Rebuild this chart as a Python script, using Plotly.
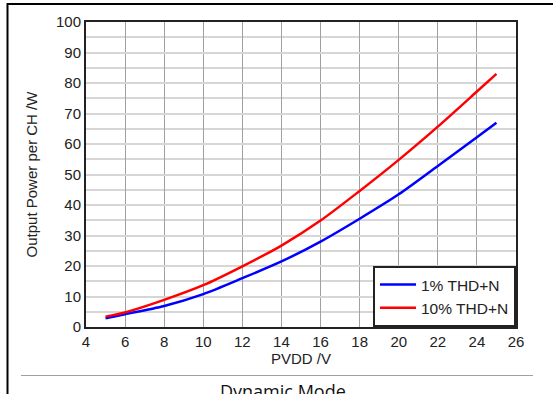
import plotly.graph_objects as go

pvdd = [5, 6, 8, 10, 12, 14, 16, 18, 20, 22, 24, 25]
p_1pct = [2.9, 4.2, 6.9, 10.8, 16.0, 21.5, 28.0, 35.5, 43.5, 52.8, 62.2, 67.0]
p_10pct = [3.4, 4.8, 8.9, 13.7, 19.9, 26.7, 34.9, 44.6, 54.8, 65.7, 77.2, 83.0]
series_names = ["1% THD+N", "10% THD+N"]
x_title = "PVDD /V"
y_title = "Output Power per CH /W"
caption = "Dynamic Mode"

W, H = 553, 394
L, R, T, B = 86, 37, 22, 67
pw, ph = W - L - R, H - T - B

def fx(px):
    return (px - L) / pw

def fy(py):
    return 1 - (py - T) / ph

fig = go.Figure()
fig.add_trace(go.Scatter(x=pvdd, y=p_1pct, name=series_names[0], mode="lines",
                         line=dict(color="#0000ff", width=2.5, shape="spline", smoothing=0.8)))
fig.add_trace(go.Scatter(x=pvdd, y=p_10pct, name=series_names[1], mode="lines",
                         line=dict(color="#ff0000", width=2.5, shape="spline", smoothing=0.8)))

font = dict(family="Liberation Sans, Arial, sans-serif", size=15, color="#222")

fig.update_layout(
    width=W, height=H,
    margin=dict(l=L, r=R, t=T, b=B, pad=0),
    paper_bgcolor="white", plot_bgcolor="white",
    font=font,
    showlegend=True,
    legend=dict(x=1, xanchor="right", y=0, yanchor="bottom",
                bgcolor="white", bordercolor="#222", borderwidth=2,
                font=dict(family="Liberation Sans, Arial, sans-serif", size=15.5, color="#222"),
                itemwidth=36, tracegroupgap=0),
    xaxis=dict(range=[4, 26], dtick=2, tick0=4, showgrid=True, gridcolor="#a0a0a0", gridwidth=1,
               showline=True, linecolor="#222", linewidth=2, mirror=True,
               ticks="", ticklen=0, zeroline=False,
               title=dict(text=x_title, standoff=4, font=font)),
    yaxis=dict(range=[0, 100], dtick=10, tick0=0, showgrid=True, gridcolor="#d6d6d6", gridwidth=2,
               minor=dict(dtick=5, showgrid=True, gridcolor="#d6d6d6", gridwidth=2),
               showline=True, linecolor="#222", linewidth=2, mirror=True,
               ticks="", ticklen=0, zeroline=False,
               title=dict(text=y_title, standoff=15, font=font)),
    shapes=[
        dict(type="line", xref="paper", yref="paper", x0=fx(7), x1=fx(553), y0=fy(4), y1=fy(4),
             line=dict(color="black", width=2)),
        dict(type="line", xref="paper", yref="paper", x0=fx(7.5), x1=fx(7.5), y0=fy(3), y1=fy(394),
             line=dict(color="black", width=2)),
        dict(type="line", xref="paper", yref="paper", x0=fx(21), x1=fx(533), y0=fy(375.5), y1=fy(375.5),
             line=dict(color="#a0a0a0", width=1)),
    ],
    annotations=[
        dict(text=caption, xref="paper", yref="paper", x=fx(283), y=fy(391), xanchor="center",
             yanchor="middle", showarrow=False,
             font=dict(family="Open Sans, sans-serif", size=18, color="#111")),
    ],
)

fig.write_html("out.html")
